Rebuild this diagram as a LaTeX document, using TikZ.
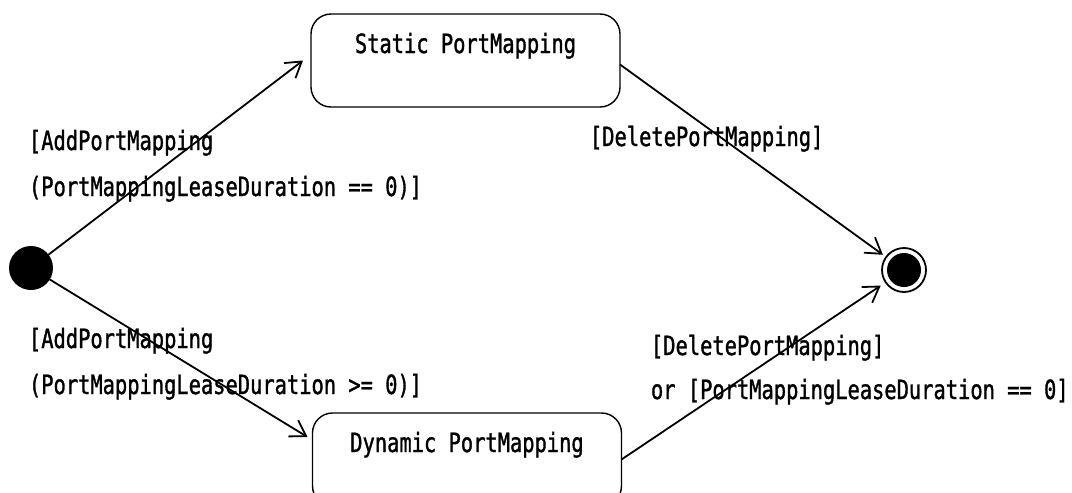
\documentclass[tikz,border=0pt]{standalone}
\usepackage{fontspec}
\newfontfamily\lblfont[FakeStretch=0.77,FakeBold=1.2]{DejaVu Sans Mono}
\usetikzlibrary{arrows.meta,calc}
\begin{document}
\begin{tikzpicture}[x=1pt,y=-1pt,
  every node/.style={inner sep=0pt, outer sep=0pt},
  txt/.style={font=\lblfont\fontsize{26.5}{26.5}\selectfont, text=black},
  lbl/.style={txt, anchor=base west},
  statebox/.style={draw, line width=1.4pt, rounded corners=20pt,
    minimum width=309pt, minimum height=93pt, inner ysep=19pt,
    text height=20pt, text depth=35pt, txt},
  trans/.style={draw, line width=1.8pt,
    -{Straight Barb[length=15pt,width=19pt,line width=1.8pt]}}
]
\useasboundingbox (0,0) rectangle (1072,493);
\begin{scope}
\clip (0,0) rectangle (1072,493);

% states
\node[circle, fill=black, minimum size=44pt] (init) at (31,268) {};
\node[circle, draw, line width=1.8pt, fill=white, minimum size=44pt] (final) at (904,270) {};
\node[circle, fill=black, minimum size=34pt] (finalin) at (final) {};

\node[statebox] (static) at (465.5,60.5) {Static PortMapping};
\node[statebox] (dyn) at (467,459.5) {Dynamic PortMapping};

% transitions
\draw[trans] (init) -- ([xshift=-8pt]static.west);
\draw[trans] (init) -- ($(dyn.west)+(-5,-22.5)$);
\draw[trans, shorten >=4pt] ($(static.east)+(0,4)$) -- (final);
\draw[trans, shorten >=6pt] (dyn.east) -- (final);

% guards
\node[lbl] (g1a) at (29,150) {[AddPortMapping};
\node[lbl] (g1b) at (29,196) {(PortMappingLeaseDuration == 0)]};
\node[lbl] (g2a) at (29,348) {[AddPortMapping};
\node[lbl] (g2b) at (29,394) {(PortMappingLeaseDuration >= 0)]};
\node[lbl] (g3) at (590,146) {[DeletePortMapping]};
\node[lbl] (g4a) at (651,355) {[DeletePortMapping]};
\node[lbl] (g4b) at (651,399) {or [PortMappingLeaseDuration == 0]};
\end{scope}
\end{tikzpicture}
\end{document}
